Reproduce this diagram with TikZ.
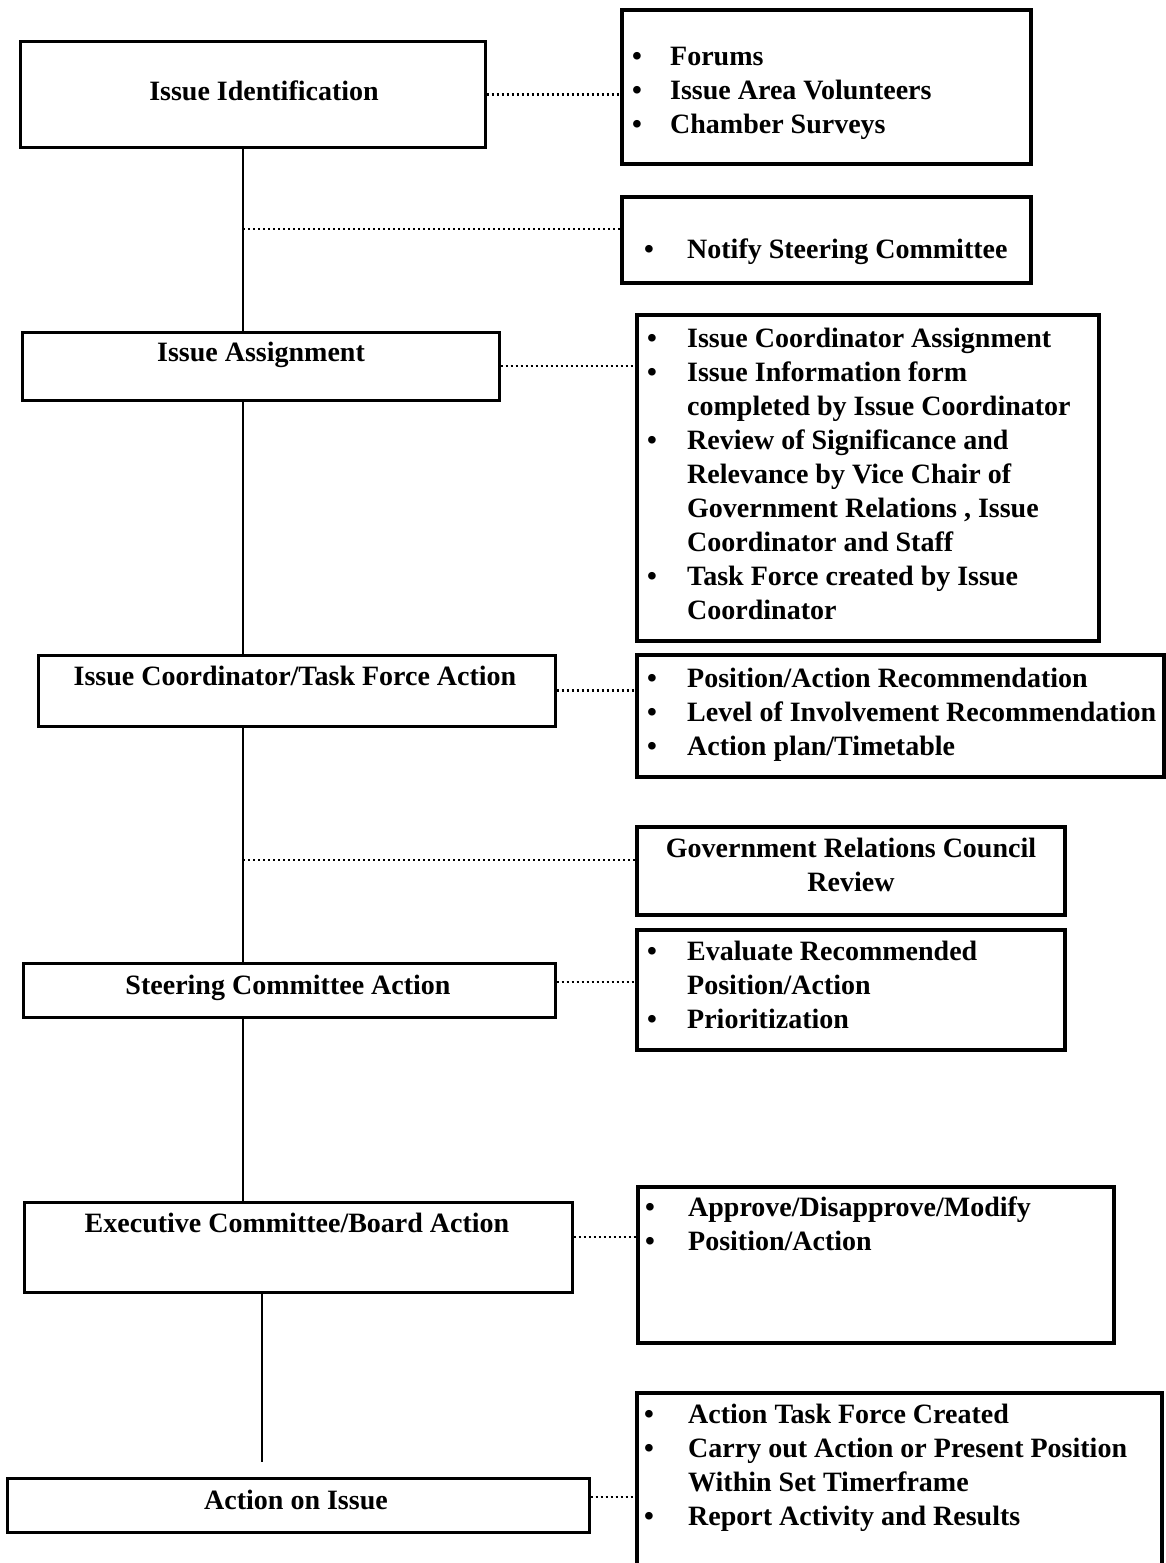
\documentclass[tikz,border=0pt]{standalone}
\usepackage{fontspec}
\setmainfont{Liberation Serif}
\usetikzlibrary{positioning}
\tikzset{
  stage/.style={draw, line width=3pt, inner sep=0pt},
  note/.style={draw, line width=3.2pt, inner sep=0pt},
  caption/.style={font=\bfseries\fontsize{28}{34}\selectfont, inner sep=0pt, anchor=base},
  items/.style={font=\bfseries\fontsize{28}{34}\selectfont, inner sep=0pt, anchor=base west},
  spineline/.style={line width=1.8pt},
  dots/.style={line width=2.2pt, dash pattern=on 2.2pt off 2.8pt},
}

\begin{document}
\begin{tikzpicture}[x=1pt, y=-1pt]
    \useasboundingbox (0,0) rectangle (1166,1563);

    % Stages (left column)
    \node[stage, minimum width=465pt, minimum height=105pt] (iid) at (252.5,94.5) {};
    \node[stage, minimum width=477pt, minimum height=68pt] (ias) at (260.5,366) {};
    \node[stage, minimum width=517pt, minimum height=71pt] (icta) at (296.5,690.5) {};
    \node[stage, minimum width=532pt, minimum height=54pt] (sca) at (289,990) {};
    \node[stage, minimum width=548pt, minimum height=90pt] (eca) at (298,1247) {};
    \node[stage, minimum width=582pt, minimum height=54pt] (aoi) at (298,1505) {};

    \node[caption] (iid-t) at (264,100) {Issue Identification};
    \node[caption] (ias-t) at (261,361) {Issue Assignment};
    \node[caption] (icta-t) at (295,685) {Issue Coordinator/Task Force Action};
    \node[caption] (sca-t) at (288,994) {Steering Committee Action};
    \node[caption] (eca-t) at (297,1232) {Executive Committee/Board Action};
    \node[caption] (aoi-t) at (296,1509) {Action on Issue};

    % Notes (right column)
    \node[note, minimum width=409pt, minimum height=154pt] (r1) at (826.5,87) {};
    \node[note, minimum width=409pt, minimum height=86pt] (r2) at (826.5,240) {};
    \node[note, minimum width=462pt, minimum height=326pt] (r3) at (868,478) {};
    \node[note, minimum width=527pt, minimum height=122pt] (r4) at (900.5,716) {};
    \node[note, minimum width=428pt, minimum height=88pt] (r5) at (851,871) {};
    \node[note, minimum width=428pt, minimum height=120pt] (r6) at (851,990) {};
    \node[note, minimum width=476pt, minimum height=156pt] (r7) at (876,1265) {};
    \node[note, minimum width=525pt, minimum height=182pt] (r8) at (899.5,1484) {};

    \node[items] (r1-t) at (632,66) {\begin{tabular}[t]{@{}p{38pt}@{}l@{}}
        \textbullet & Forums\\
        \textbullet & Issue Area Volunteers\\
        \textbullet & Chamber Surveys
    \end{tabular}};
    \node[items] (r2-t) at (644,258) {\begin{tabular}[t]{@{}p{43pt}@{}l@{}}
        \textbullet & Notify Steering Committee
    \end{tabular}};
    \node[items] (r3-t) at (647,347) {\begin{tabular}[t]{@{}p{40pt}@{}l@{}}
        \textbullet & Issue Coordinator Assignment\\
        \textbullet & Issue Information form\\
                    & completed by Issue Coordinator\\
        \textbullet & Review of Significance and\\
                    & Relevance by Vice Chair of\\
                    & Government Relations , Issue\\
                    & Coordinator and Staff\\
        \textbullet & Task Force created by Issue\\
                    & Coordinator
    \end{tabular}};
    \node[items] (r4-t) at (647,687) {\begin{tabular}[t]{@{}p{40pt}@{}l@{}}
        \textbullet & Position/Action Recommendation\\
        \textbullet & Level of Involvement Recommendation\\
        \textbullet & Action plan/Timetable
    \end{tabular}};
    \node[caption] (r5-t) at (851,857) {\begin{tabular}[t]{@{}c@{}}
        Government Relations Council\\
        Review
    \end{tabular}};
    \node[items] (r6-t) at (647,960) {\begin{tabular}[t]{@{}p{40pt}@{}l@{}}
        \textbullet & Evaluate Recommended\\
                    & Position/Action\\
        \textbullet & Prioritization
    \end{tabular}};
    \node[items] (r7-t) at (645,1216) {\begin{tabular}[t]{@{}p{43pt}@{}l@{}}
        \textbullet & Approve/Disapprove/Modify\\
        \textbullet & Position/Action
    \end{tabular}};
    \node[items] (r8-t) at (644,1423) {\begin{tabular}[t]{@{}p{44pt}@{}l@{}}
        \textbullet & Action Task Force Created\\
        \textbullet & Carry out Action or Present Position\\
                    & Within Set Timerframe\\
        \textbullet & Report Activity and Results
    \end{tabular}};

    % Main flow line
    \coordinate (spine) at (243,0);
    \coordinate (gap) at (262,1462);
    \draw[spineline] (iid.south -| spine) -- (ias.north -| spine);
    \draw[spineline] (ias.south -| spine) -- (icta.north -| spine);
    \draw[spineline] (icta.south -| spine) -- (sca.north -| spine);
    \draw[spineline] (sca.south -| spine) -- (eca.north -| spine);
    \draw[spineline] (eca.south -| gap) -- (gap);

    % Dotted links
    \coordinate (b1) at (243,229);
    \coordinate (b2) at (243,860);
    \coordinate (c4) at ([yshift=8pt]sca.east);
    \coordinate (c5) at ([yshift=10pt]eca.east);
    \coordinate (c6) at ([yshift=8pt]aoi.east);
    \draw[dots] (iid.east) -- (iid.east -| r1.west);
    \draw[dots] (b1) -- (b1 -| r2.west);
    \draw[dots] (ias.east) -- (ias.east -| r3.west);
    \draw[dots] (icta.east) -- (icta.east -| r4.west);
    \draw[dots] (b2) -- (b2 -| r5.west);
    \draw[dots] (c4) -- (c4 -| r6.west);
    \draw[dots] (c5) -- (c5 -| r7.west);
    \draw[dots] (c6) -- (c6 -| r8.west);
\end{tikzpicture}
\end{document}
